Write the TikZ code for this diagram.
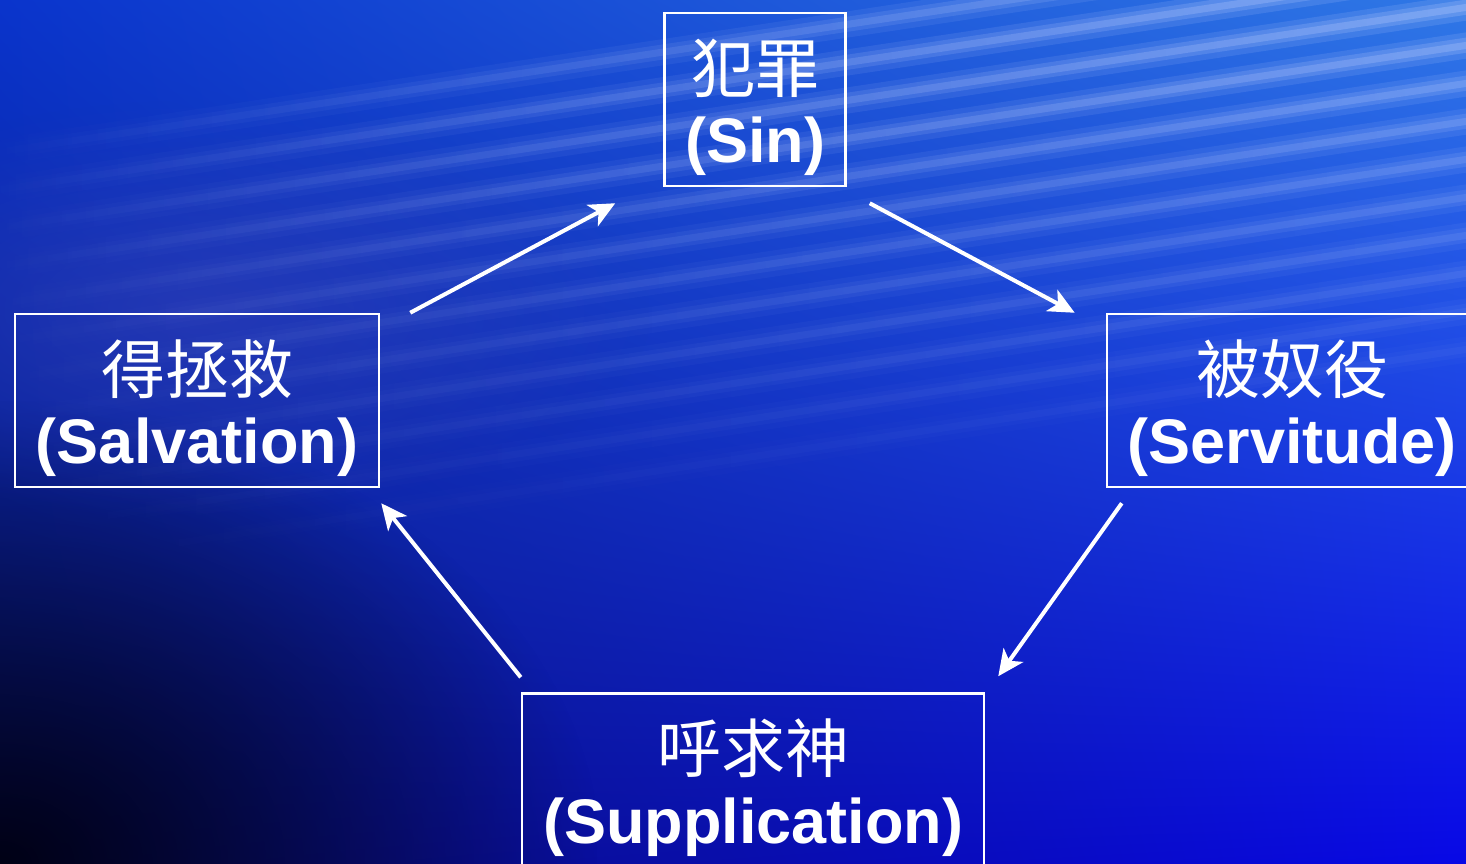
\documentclass[tikz,border=0pt]{standalone}
\usepackage{fontspec}
\setmainfont{Liberation Sans}
\newfontfamily\cjk{Noto Sans CJK SC}
\usetikzlibrary{arrows.meta,fadings,shadings}

\definecolor{bgUL}{HTML}{0A34CC}
\definecolor{bgUR}{HTML}{2F78E6}
\definecolor{bgLL}{HTML}{0A1270}
\definecolor{bgLR}{HTML}{0808E6}
\definecolor{deep}{HTML}{000010}
\definecolor{haze}{HTML}{3A44B8}
\definecolor{streak}{HTML}{C0D0FF}

\tikzfading[name=fadeL, left color=transparent!100, right color=transparent!0]
\tikzfading[name=softspot, inner color=transparent!0, outer color=transparent!100]

\tikzset{
  box/.style={draw=white, line width=2.5pt, inner sep=0pt, minimum height=173pt},
  cn/.style={text=white, anchor=base, inner sep=0pt, font=\cjk\fontsize{64}{70}\selectfont},
  en/.style={text=white, anchor=base, inner sep=0pt, font=\bfseries\fontsize{63}{70}\selectfont},
  flow/.style={draw=white, line width=4pt, -{Stealth[length=26pt,width=24pt,inset=7pt]}}
}

\begin{document}
\begin{tikzpicture}[x=1pt,y=-1pt]
\useasboundingbox (0,0) rectangle (1466,864);
\shade[upper left=bgUL, upper right=bgUR, lower left=bgLL, lower right=bgLR] (0,0) rectangle (1466,864);
% deep shadow in the lower-left corner
\fill[deep, opacity=0.95, path fading=softspot] (-600,400) rectangle (600,1330);
% purplish haze on the left middle
\fill[haze, opacity=0.5, path fading=softspot] (-250,100) rectangle (650,520);
% streaks
\foreach \yr/\op in {-70/0.6, -32/0.7, 6/0.65, 44/0.6, 82/0.5, 120/0.42, 158/0.36, 196/0.3, 234/0.25, 272/0.2, 310/0.15, 348/0.1}{
  \pgfmathsetmacro{\yl}{\yr+0.15*1500}
  \draw[streak, line width=26pt, opacity=0.25*\op, path fading=fadeL] (-20,\yl) -- (1480,\yr);
  \draw[streak, line width=15pt, opacity=0.35*\op, path fading=fadeL] (-20,\yl) -- (1480,\yr);
  \draw[streak, line width=7pt, opacity=0.45*\op, path fading=fadeL] (-20,\yl) -- (1480,\yr);
}

\node[box, minimum width=181pt] (sin) at (755,99.5) {};
\node[box, minimum width=364pt] (sal) at (197,400.5) {};
\node[box, minimum width=370pt] (ser) at (1292,400.5) {};
\node[box, minimum width=462pt] (sup) at (753,780) {};

\node[cn] (sincn) at ([yshift=7pt]sin.center) {犯罪};
\node[en] (sinen) at ([yshift=-63pt]sin.center) {(Sin)};
\node[cn] (salcn) at ([yshift=7pt]sal.center) {得拯救};
\node[en] (salen) at ([yshift=-63pt]sal.center) {(Salvation)};
\node[cn] (sercn) at ([yshift=7pt]ser.center) {被奴役};
\node[en] (seren) at ([yshift=-63pt]ser.center) {(Servitude)};
\node[cn] (supcn) at ([yshift=8pt]sup.center) {呼求神};
\node[en] (supen) at ([yshift=-63pt]sup.center) {(Supplication)};

\coordinate (a1s) at ([xshift=30pt]sal.north east);
\coordinate (a1e) at ([xshift=-48pt,yshift=-16pt]sin.south west);
\coordinate (a2s) at ([xshift=23pt,yshift=-16pt]sin.south east);
\coordinate (a2e) at ([xshift=-31pt]ser.north west);
\coordinate (a3s) at ([xshift=16pt,yshift=-15pt]ser.south west);
\coordinate (a3e) at ([xshift=13pt,yshift=16pt]sup.north east);
\coordinate (a4s) at ([yshift=15pt]sup.north west);
\coordinate (a4e) at ([xshift=1pt,yshift=-15pt]sal.south east);

\draw[flow] (a1s) -- (a1e);
\draw[flow] (a2s) -- (a2e);
\draw[flow] (a3s) -- (a3e);
\draw[flow] (a4s) -- (a4e);
\end{tikzpicture}
\end{document}
